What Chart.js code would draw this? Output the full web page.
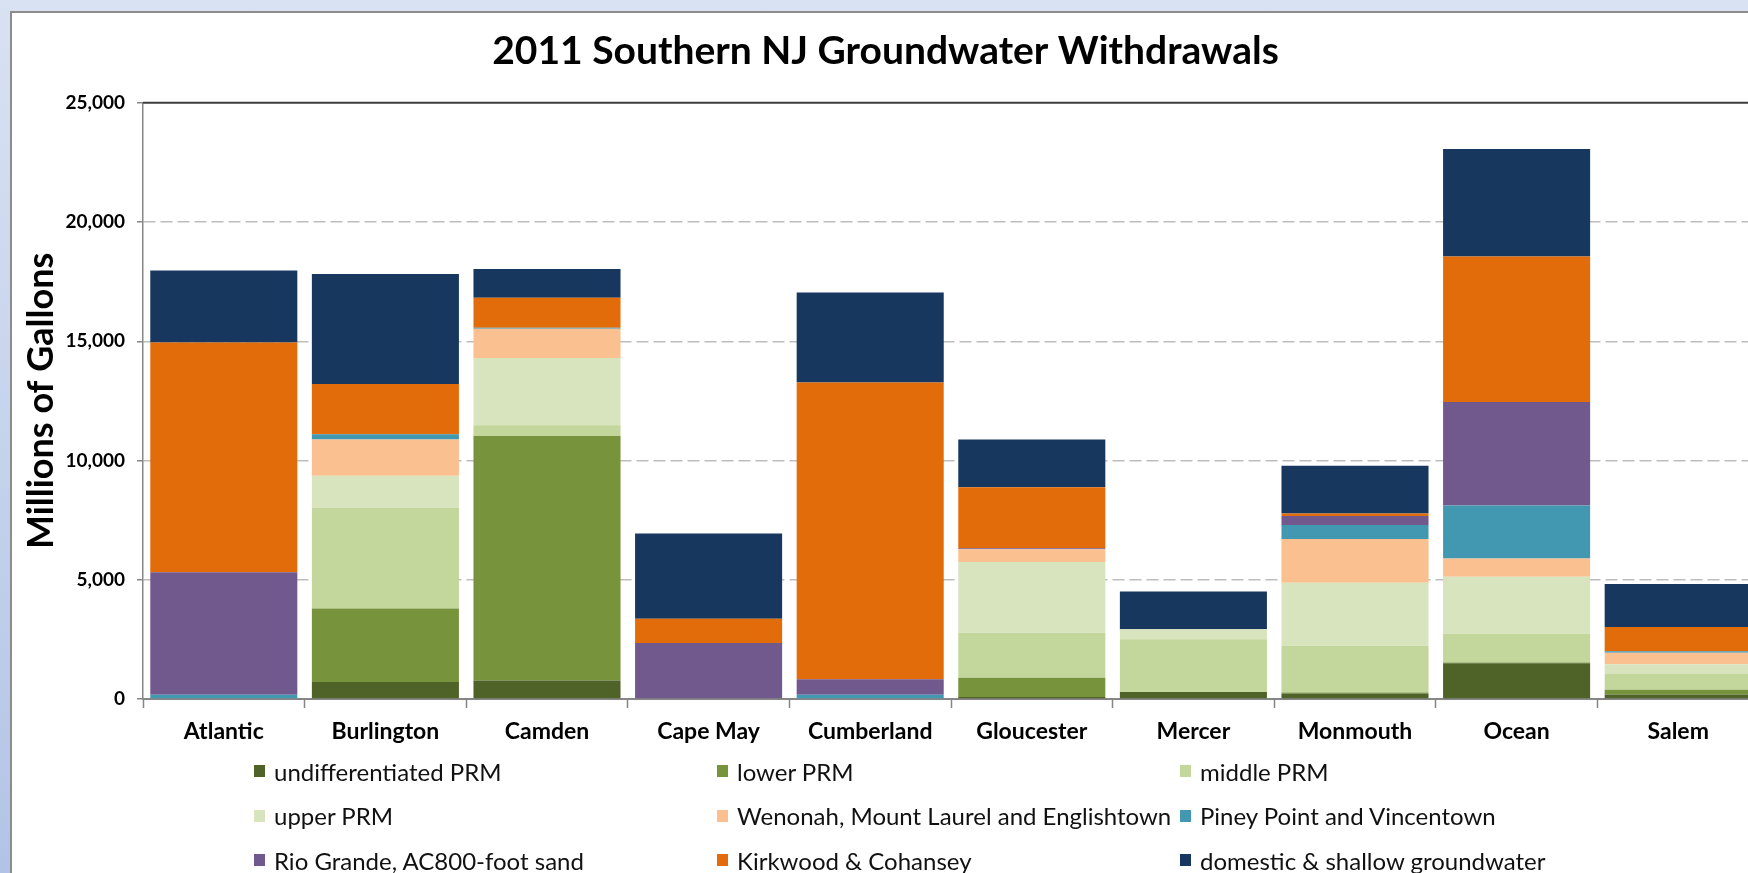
<!DOCTYPE html>
<html>
<head>
<meta charset="utf-8">
<title>2011 Southern NJ Groundwater Withdrawals</title>
<script src="https://cdn.jsdelivr.net/npm/chart.js@4.4.0/dist/chart.umd.min.js"></script>
<style>
    html, body {
        margin: 0;
        padding: 0;
        width: 1748px;
        height: 873px;
        overflow: hidden;
    }
    body {
        position: relative;
        background: linear-gradient(to bottom, #d9e2f3, #b2c4e6);
        font-family: Lato, sans-serif;
    }
    #moldura {
        position: absolute;
        left: 10px;
        top: 11px;
        width: 1800px;
        height: 900px;
        background: #fff;
        border-left: 2px solid #8c8c8c;
        border-top: 2px solid #8c8c8c;
    }
    #caixaGrafico {
        position: absolute;
        left: 12px;
        top: 13px;
        width: 1748px;
        height: 860px;
    }
    #legenda {
        position: absolute;
        left: 254px;
        top: 749px;
        display: grid;
        grid-template-columns: 463px 463px 463px;
        grid-auto-rows: 44.5px;
    }
    #legenda .item {
        display: flex;
        align-items: center;
        font-size: 24px;
        color: #111;
        white-space: nowrap;
    }
    #legenda .marca {
        width: 11px;
        height: 12px;
        margin-right: 9px;
        flex: none;
    }
</style>
</head>
<body>
<div id="moldura"></div>
<div id="caixaGrafico"><canvas id="graficoRetiradas"></canvas></div>
<div id="legenda"></div>

<script>
// Withdrawals per county, millions of gallons, one array per aquifer (stacked bottom to top)
const condados = ["Atlantic", "Burlington", "Camden", "Cape May", "Cumberland",
    "Gloucester", "Mercer", "Monmouth", "Ocean", "Salem"];

const undifferentiatedPRM = [0, 710, 780, 0, 0, 80, 290, 230, 1500, 190];
const lowerPRM            = [0, 3090, 10250, 0, 0, 810, 0, 45, 30, 200];
const middlePRM           = [0, 4230, 450, 0, 0, 1890, 2220, 1955, 1210, 680];
const upperPRM            = [0, 1330, 2820, 0, 0, 2960, 420, 2640, 2390, 390];
const wenonah             = [0, 1520, 1230, 0, 0, 540, 0, 1840, 760, 480];
const pineyPoint          = [180, 220, 40, 0, 180, 0, 0, 590, 2220, 60];
const rioGrande           = [5130, 0, 0, 2350, 650, 40, 0, 370, 4340, 0];
const kirkwood            = [9640, 2110, 1260, 1010, 12440, 2560, 0, 110, 6100, 1020];
const domestic            = [3020, 4610, 1200, 3580, 3780, 2000, 1580, 2000, 4510, 1800];

const yTicks = [0, 5000, 10000, 15000, 20000, 25000];

const series = [
    { label: "undifferentiated PRM", data: undifferentiatedPRM, cor: "#4f6228" },
    { label: "lower PRM", data: lowerPRM, cor: "#77933c" },
    { label: "middle PRM", data: middlePRM, cor: "#c3d69b" },
    { label: "upper PRM", data: upperPRM, cor: "#d7e4bd" },
    { label: "Wenonah, Mount Laurel and Englishtown", data: wenonah, cor: "#fac090" },
    { label: "Piney Point and Vincentown", data: pineyPoint, cor: "#4298b0" },
    { label: "Rio Grande, AC800-foot sand", data: rioGrande, cor: "#72598d" },
    { label: "Kirkwood & Cohansey", data: kirkwood, cor: "#e36c0a" },
    { label: "domestic & shallow groundwater", data: domestic, cor: "#18375e" },
];

// solid dark line along the top of the plot (the 25,000 gridline)
const linhaTopo = {
    id: "linhaTopo",
    afterDraw(chart) {
        const { ctx, chartArea, scales } = chart;
        const y = scales.y.getPixelForValue(yTicks[yTicks.length - 1]);
        ctx.save();
        ctx.strokeStyle = "#3c3c3c";
        ctx.lineWidth = 2;
        ctx.beginPath();
        ctx.moveTo(chartArea.left, y);
        ctx.lineTo(chartArea.right, y);
        ctx.stroke();
        ctx.restore();
    },
};

function renderGraficoRetiradas() {
    const ctx = document.getElementById("graficoRetiradas");

    const grafico = new Chart(ctx, {
        type: "bar",
        data: {
            labels: condados,
            datasets: series.map((s) => ({
                label: s.label,
                data: s.data,
                backgroundColor: s.cor,
                borderWidth: 0,
                barPercentage: 0.91,
                categoryPercentage: 1,
            })),
        },
        options: {
            responsive: true,
            maintainAspectRatio: false,
            animation: false,
            layout: {
                padding: { left: 0, right: 1, top: 0, bottom: 114 },
            },
            plugins: {
                legend: { display: false },
                tooltip: { enabled: false },
                title: {
                    display: true,
                    text: "2011 Southern NJ Groundwater Withdrawals",
                    color: "#000",
                    font: { family: "Lato", size: 39, weight: "bold" },
                    padding: { top: 15, bottom: 28 },
                },
            },
            scales: {
                x: {
                    stacked: true,
                    grid: {
                        display: true,
                        drawOnChartArea: false,
                        offset: true,
                        tickLength: 9,
                        tickColor: "#868686",
                        tickWidth: 1.5,
                    },
                    border: { color: "#868686", width: 2 },
                    ticks: {
                        color: "#000",
                        padding: 10,
                        font: { family: "Lato", size: 23, weight: "bold" },
                    },
                    afterFit: (s) => {
                        s.height = 60;
                    },
                },
                y: {
                    stacked: true,
                    min: yTicks[0],
                    max: yTicks[yTicks.length - 1],
                    afterBuildTicks: (s) => {
                        s.ticks = yTicks.map((v) => ({ value: v }));
                    },
                    ticks: {
                        color: "#000",
                        padding: 12,
                        font: { family: "Lato", size: 19, weight: "bold" },
                        callback: (v) => Number(v).toLocaleString("en-US"),
                    },
                    grid: {
                        color: (c) =>
                            c.tick && (c.tick.value === 0 || c.tick.value === 25000)
                                ? "rgba(0,0,0,0)"
                                : "#bdbdbd",
                        lineWidth: 1.5,
                        tickLength: 6,
                        tickColor: "#868686",
                        tickWidth: 1.5,
                    },
                    border: { color: "#868686", width: 1.5, dash: [12, 5] },
                    title: {
                        display: true,
                        text: "Millions of Gallons",
                        color: "#000",
                        font: { family: "Lato", size: 36, weight: "bold" },
                        padding: { top: 8, bottom: 0 },
                    },
                    afterFit: (s) => {
                        s.width = 131;
                    },
                },
            },
        },
        plugins: [linhaTopo],
    });

    renderLegenda(grafico);
}

function renderLegenda(grafico) {
    const caixa = document.getElementById("legenda");
    grafico.data.datasets.forEach((ds) => {
        const item = document.createElement("div");
        item.className = "item";
        const marca = document.createElement("span");
        marca.className = "marca";
        marca.style.background = ds.backgroundColor;
        item.appendChild(marca);
        item.appendChild(document.createTextNode(ds.label));
        caixa.appendChild(item);
    });
}

renderGraficoRetiradas();
</script>
</body>
</html>
